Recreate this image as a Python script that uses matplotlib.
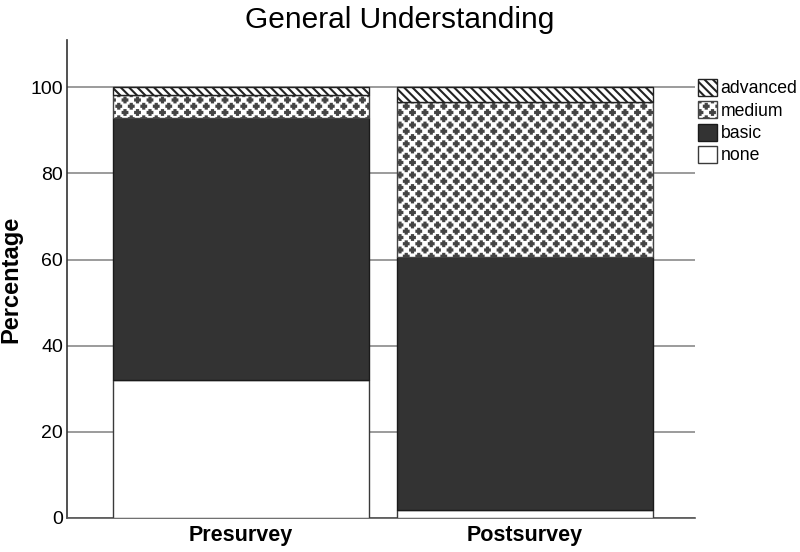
import numpy as np
import matplotlib
matplotlib.use("Agg")
import matplotlib.pyplot as plt
from matplotlib import hatch as mhatch
from matplotlib.path import Path

plt.rcParams['font.family'] = ['Liberation Sans', 'DejaVu Sans']
plt.rcParams['hatch.linewidth'] = 1.5


# small filled plus signs on a staggered grid, used for the "medium" band
class PlusHatch(mhatch.HatchPatternBase):
    def __init__(self, hatch, density):
        n = hatch.count('*') * 4
        self.n = n
        self.num_vertices = 0
        if n:
            L, a = 0.19 / n, 0.045 / n
            self.shape = np.array([
                [-a, L], [a, L], [a, a], [L, a], [L, -a], [a, -a],
                [a, -L], [-a, -L], [-a, -a], [-L, -a], [-L, a], [-a, a], [-a, L]])
            self.centers = []
            for r in range(2 * n + 1):
                y = r / (2 * n)
                if r % 2 == 0:
                    xs = np.arange(n + 1) / n
                else:
                    xs = (np.arange(n) + 0.5) / n
                for xc in xs:
                    self.centers.append((xc, y))
            self.num_vertices = len(self.centers) * len(self.shape)

    def set_vertices_and_codes(self, vertices, codes):
        k = len(self.shape)
        shape_codes = [Path.MOVETO] + [Path.LINETO] * (k - 2) + [Path.CLOSEPOLY]
        for i, (xc, yc) in enumerate(self.centers):
            vertices[i * k:(i + 1) * k] = self.shape + [xc, yc]
            codes[i * k:(i + 1) * k] = shape_codes


mhatch._hatch_types = [t for t in mhatch._hatch_types
                       if t is not getattr(mhatch, "Stars", None)] + [PlusHatch]

# data
groups = ["Presurvey", "Postsurvey"]
none = [32.1, 1.8]
basic = [60.7, 58.7]
medium = [5.4, 36.1]
advanced = [1.8, 3.4]
yticks = [0, 20, 40, 60, 80, 100]

fig = plt.figure(figsize=(8, 5.52), dpi=100)
ax = fig.add_axes([0.084, 0.0616, 0.785, 0.866])

x = np.arange(len(groups))
w = 0.90
edge = "#3a3a3a"

bottom = np.zeros(len(groups))
b_none = ax.bar(x, none, w, bottom=bottom, color="white", edgecolor=edge, linewidth=1, zorder=3)
bottom += none
b_basic = ax.bar(x, basic, w, bottom=bottom, color="#333333", edgecolor="#1a1a1a", linewidth=1, zorder=3)
bottom += basic
b_med = ax.bar(x, medium, w, bottom=bottom, color="white", edgecolor="#444444", hatch="**", linewidth=1, zorder=3)
bottom += medium
b_adv = ax.bar(x, advanced, w, bottom=bottom, color="white", edgecolor="#222222", hatch="\\\\\\\\", linewidth=1, zorder=3)

ax.set_xlim(-0.613, 1.599)
ax.set_ylim(0, 111)
ax.set_yticks(yticks)
ax.yaxis.grid(True, color="#8a8a8a", linewidth=1.2, zorder=0)
ax.set_axisbelow(True)
ax.tick_params(axis="y", length=0, labelsize=14, pad=3)
ax.tick_params(axis="x", length=0, pad=5)
ax.set_xticks(x)
ax.set_xticklabels(groups, fontsize=15.5, fontweight="bold")

for s in ["top", "right"]:
    ax.spines[s].set_visible(False)
ax.spines["left"].set_color("#333333")
ax.spines["bottom"].set_color("#555555")
ax.spines["left"].set_linewidth(1.2)
ax.spines["bottom"].set_linewidth(1.2)

ax.set_ylabel("Percentage", fontsize=17, fontweight="bold", labelpad=6)
fig.suptitle("General Understanding", fontsize=21.5, y=0.99)

fig.legend([b_adv, b_med, b_basic, b_none], ["advanced", "medium", "basic", "none"],
           loc="upper left", bbox_to_anchor=(0.873, 0.857), frameon=False,
           fontsize=12.7, handlelength=1.05, handleheight=1.1, handletextpad=0.2,
           labelspacing=0.22, borderpad=0, borderaxespad=0)

fig.savefig("out.png", dpi=100)
